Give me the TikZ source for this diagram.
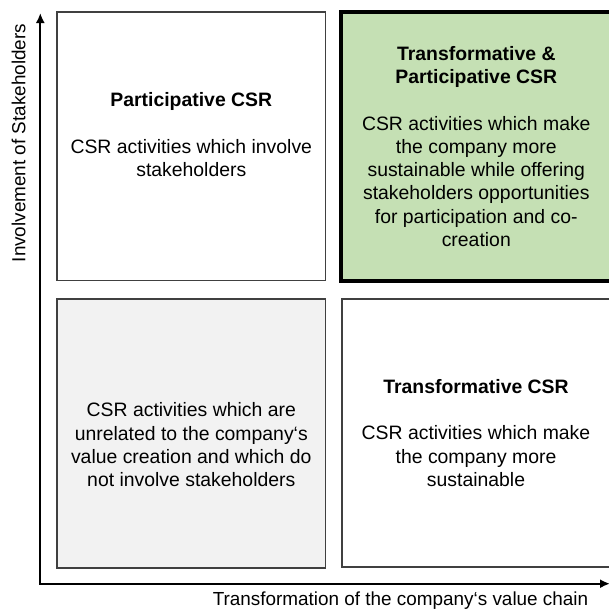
\documentclass[tikz,border=0pt]{standalone}
\usepackage{fontspec}
\setmainfont{Liberation Sans}
\usetikzlibrary{arrows.meta}
\usetikzlibrary{positioning}
\definecolor{mgreen}{HTML}{C5E0B4}
\definecolor{mgrey}{HTML}{F2F2F2}
\definecolor{mline}{HTML}{404040}

\begin{document}
\begin{tikzpicture}[x=1pt, y=-1pt,
    cell/.style={draw=mline, line width=1.6pt, minimum width=268.5pt, minimum height=268.5pt, inner sep=0pt},
    txt/.style={align=center, inner sep=0pt, font=\fontsize{19.4}{23.2}\selectfont},
    axlabel/.style={inner sep=0pt, anchor=base, font=\fontsize{18.9}{22}\selectfont}]
    \useasboundingbox (0, 0) rectangle (609, 614);

    \node [cell] (part) at (191.3, 146.3) {};
    \node [cell, fill=mgreen, draw=black, line width=4pt, minimum width=270pt, minimum height=269pt] (transpart) at (476.3, 146.6) {};
    \node [cell, fill=mgrey] (unrel) at (191.3, 433.5) {};
    \node [cell] (trans) at (476, 433) {};

    \node [txt] (parttxt) at ([yshift=11.8pt]part.center) {\textbf{Participative CSR}\\[23.2pt]CSR activities which involve\\stakeholders};
    \node [txt] (transparttxt) at (transpart.center) {\textbf{Transformative \&}\\\textbf{Participative CSR}\\[23.2pt]CSR activities which make\\the company more\\sustainable while offering\\stakeholders opportunities\\for participation and co-\\creation};
    \node [txt] (unreltxt) at ([yshift=-11.3pt]unrel.center) {CSR activities which are\\unrelated to the company‘s\\value creation and which do\\not involve stakeholders};
    \node [txt] (transtxt) at (trans.center) {\textbf{Transformative CSR}\\[23.2pt]CSR activities which make\\the company more\\sustainable};

    \coordinate (o) at (40.3, 583.7);
    \coordinate (ytip) at (40.3, 13);
    \coordinate (xtip) at (610, 583.7);
    \draw [line width=2pt, {Latex[length=10pt,width=9pt]}-{Latex[length=10pt,width=9pt]}] (ytip) -- (o) -- (xtip);

    \node [axlabel] (xlabel) at (400.5, 605.7) {Transformation of the company‘s value chain};
    \node [axlabel, rotate=90] (ylabel) at (25.3, 143) {Involvement of Stakeholders};
  \end{tikzpicture}
\end{document}
